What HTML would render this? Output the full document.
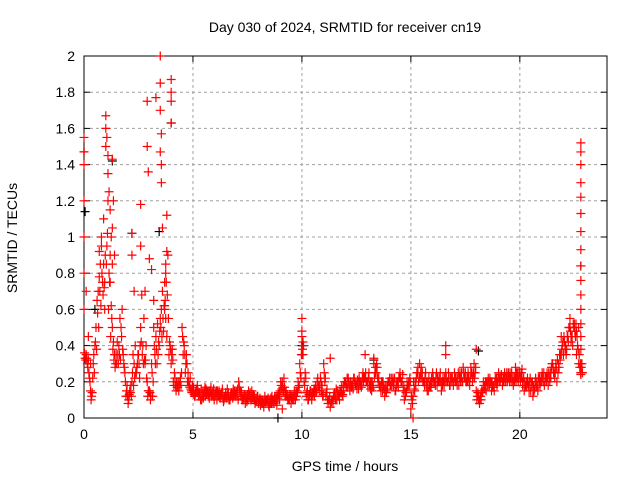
<!DOCTYPE html>
<html><head><meta charset="utf-8"><style>
html,body{margin:0;padding:0;background:#fff;}
svg{display:block;font-family:"Liberation Sans",sans-serif;}
</style></head><body>
<svg id="chart" width="640" height="480" viewBox="0 0 640 480">
<text x="345" y="32" text-anchor="middle" font-size="14">Day 030 of 2024, SRMTID for receiver cn19</text>
<text x="345" y="471" text-anchor="middle" font-size="14">GPS time / hours</text>
<text transform="translate(17,238) rotate(-90)" text-anchor="middle" font-size="14">SRMTID / TECUs</text>
<g id="grid"></g><g id="axes"></g><g id="marks"></g>
</svg>
<script>
const xTicks=[0,5,10,15,20];
const yTicks=[0,0.2,0.4,0.6,0.8,1,1.2,1.4,1.6,1.8,2];
const yTickLabels=["0","0.2","0.4","0.6","0.8","1","1.2","1.4","1.6","1.8","2"];
const mainStep=0.1;
const mainValues=[1.47,0.35,0.32,0.15,0.22,0.4,0.65,0.78,0.95,1.1,
1.5,1.2,0.9,0.5,0.35,0.3,0.4,0.5,0.35,0.2,
0.12,0.15,0.2,0.3,0.25,0.35,0.5,0.4,0.3,0.2,
0.15,0.3,0.5,0.45,0.35,0.55,0.7,0.6,0.45,0.35,
0.3,0.2,0.18,0.17,0.2,0.5,0.4,0.35,0.2,0.16,
0.15,0.12,0.18,0.14,0.1,0.13,0.16,0.12,0.15,0.14,
0.12,0.1,0.15,0.13,0.09,0.14,0.12,0.1,0.13,0.15,
0.14,0.2,0.12,0.1,0.08,0.13,0.12,0.15,0.1,0.09,
0.08,0.07,0.1,0.12,0.09,0.06,0.08,0.1,0.09,0.11,
0.15,0.2,0.17,0.12,0.1,0.08,0.12,0.1,0.14,0.3,
0.45,0.2,0.12,0.1,0.15,0.13,0.16,0.2,0.18,0.15,
0.3,0.12,0.08,0.06,0.1,0.14,0.1,0.12,0.15,0.18,
0.2,0.17,0.15,0.2,0.22,0.18,0.16,0.2,0.25,0.22,
0.2,0.18,0.15,0.3,0.25,0.2,0.17,0.15,0.12,0.18,
0.2,0.22,0.18,0.15,0.2,0.25,0.2,0.1,0.15,0.2,
0.05,0.12,0.2,0.25,0.3,0.22,0.2,0.18,0.15,0.2,
0.25,0.2,0.18,0.22,0.15,0.2,0.25,0.2,0.18,0.22,
0.25,0.2,0.18,0.22,0.28,0.25,0.2,0.18,0.25,0.3,
0.15,0.1,0.12,0.15,0.18,0.2,0.18,0.15,0.17,0.2,
0.22,0.2,0.18,0.25,0.25,0.22,0.2,0.18,0.22,0.25,
0.25,0.22,0.15,0.2,0.18,0.15,0.12,0.2,0.18,0.22,
0.2,0.25,0.22,0.18,0.25,0.3,0.22,0.2,0.28,0.35,
0.35,0.4,0.45,0.5,0.45,0.5,0.35,0.3,0.25];
const secondValues=[0.33,0.3,0.22,0.12,0.35,0.5,0.7,0.85,0.75,0.6,
0.95,0.8,0.62,0.42,0.3,0.35,0.55,0.6,0.28,0.15,
0.1,0.18,0.35,0.4,0.3,0.22,0.68,0.55,0.4,0.15,
0.1,0.12,0.35,0.3,0.4,0.6,0.48,0.8,0.9,0.4,
0.38,0.25,0.2,0.15,0.18,0.35,0.25,0.2,0.17,0.14,
0.13,0.16,0.12,0.1,0.14,0.17,0.15,0.11,0.12,0.16,
0.14,0.13,0.11,0.16,0.12,0.11,0.1,0.13,0.16,0.12,
0.16,0.15,0.1,0.12,0.1,0.15,0.1,0.12,0.08,0.12,
0.1,0.09,0.06,0.1,0.11,0.08,0.1,0.12,0.07,0.14,
0.18,0.15,0.12,0.1,0.13,0.11,0.15,0.12,0.17,0.22,
0.35,0.25,0.15,0.12,0.1,0.16,0.14,0.17,0.22,0.12,
0.2,0.16,0.1,0.09,0.12,0.1,0.13,0.15,0.12,0.2,
0.17,0.2,0.18,0.16,0.19,0.21,0.2,0.18,0.22,0.2,
0.22,0.16,0.18,0.25,0.28,0.18,0.2,0.17,0.15,0.2,
0.18,0.2,0.22,0.18,0.22,0.2,0.15,0.12,0.18,0.22,
0.1,0.16,0.22,0.2,0.25,0.2,0.22,0.15,0.18,0.22,
0.2,0.22,0.2,0.25,0.18,0.22,0.2,0.22,0.2,0.18,
0.2,0.22,0.25,0.2,0.22,0.2,0.22,0.28,0.22,0.25,
0.12,0.08,0.15,0.18,0.15,0.22,0.2,0.17,0.2,0.18,
0.2,0.24,0.22,0.2,0.22,0.25,0.22,0.2,0.25,0.22,
0.22,0.2,0.18,0.22,0.2,0.18,0.15,0.17,0.22,0.2,
0.22,0.2,0.25,0.22,0.28,0.25,0.3,0.25,0.32,0.4,
0.42,0.38,0.5,0.42,0.52,0.45,0.4,0.28,0.3];
const thirdValues=[0.36,0.33,0.25,0.1,0.3,0.42,0.58,0.7,0.8,0.72,
0.85,0.6,0.45,0.38,0.28,0.42,0.35,0.45,0.3,0.12,
0.08,0.14,0.25,0.22,0.28,0.3,0.42,0.3,0.32,0.12,
0.14,0.25,0.4,0.38,0.42,0.5,0.55,0.65,0.68,0.42,
0.35,0.18,0.15,0.2,0.22,0.45,0.35,0.3,0.18,0.15,
0.17,0.14,0.15,0.12,0.12,0.15,0.13,0.14,0.17,0.12,
0.13,0.15,0.12,0.14,0.1,0.12,0.14,0.12,0.11,0.13,
0.12,0.17,0.14,0.11,0.12,0.1,0.14,0.11,0.12,0.1,
0.09,0.1,0.08,0.09,0.1,0.1,0.12,0.08,0.11,0.13,
0.2,0.17,0.14,0.13,0.1,0.12,0.1,0.14,0.2,0.25,
0.38,0.18,0.14,0.13,0.12,0.14,0.18,0.22,0.15,0.18,
0.25,0.14,0.1,0.08,0.08,0.12,0.15,0.1,0.17,0.15,
0.18,0.22,0.2,0.18,0.2,0.16,0.22,0.17,0.2,0.25,
0.18,0.2,0.2,0.22,0.3,0.22,0.15,0.2,0.18,0.16,
0.22,0.18,0.2,0.2,0.17,0.22,0.24,0.15,0.2,0.18,
0.12,0.2,0.18,0.28,0.22,0.25,0.18,0.2,0.22,0.17,
0.22,0.18,0.22,0.2,0.2,0.18,0.22,0.25,0.22,0.2,
0.22,0.18,0.22,0.25,0.25,0.2,0.25,0.22,0.2,0.22,
0.1,0.12,0.1,0.2,0.2,0.18,0.22,0.2,0.15,0.22,
0.25,0.22,0.2,0.22,0.2,0.2,0.25,0.22,0.2,0.2,
0.2,0.18,0.2,0.18,0.15,0.2,0.18,0.22,0.15,0.18,
0.25,0.18,0.2,0.25,0.22,0.28,0.25,0.32,0.35,0.38,
0.45,0.35,0.42,0.48,0.4,0.48,0.45,0.35,0.28];
const fourthValues=[0.32,0.28,0.2,0.14,0.25,0.38,0.5,0.62,0.68,0.9,
1.02,0.75,0.55,0.32,0.35,0.3,0.32,0.38,0.25,0.18,
0.13,0.12,0.18,0.25,0.35,0.4,0.35,0.32,0.22,0.15,
0.12,0.2,0.3,0.52,0.48,0.45,0.62,0.75,0.55,0.38,
0.32,0.22,0.17,0.18,0.25,0.42,0.3,0.25,0.22,0.18,
0.12,0.15,0.14,0.16,0.11,0.12,0.14,0.15,0.13,0.1,
0.15,0.12,0.13,0.11,0.12,0.16,0.1,0.14,0.12,0.14,
0.1,0.15,0.11,0.13,0.09,0.12,0.11,0.13,0.1,0.12,
0.11,0.08,0.09,0.1,0.07,0.11,0.09,0.11,0.12,0.1,
0.16,0.22,0.15,0.11,0.12,0.1,0.12,0.15,0.18,0.35,
0.4,0.22,0.1,0.15,0.14,0.12,0.15,0.18,0.2,0.13,
0.22,0.1,0.12,0.1,0.12,0.16,0.12,0.14,0.13,0.2,
0.22,0.18,0.17,0.22,0.18,0.2,0.18,0.22,0.22,0.2,
0.25,0.2,0.17,0.28,0.22,0.18,0.2,0.16,0.14,0.2,
0.18,0.22,0.15,0.2,0.22,0.2,0.18,0.14,0.18,0.2,
0.08,0.15,0.25,0.22,0.28,0.2,0.25,0.2,0.17,0.2,
0.2,0.25,0.2,0.2,0.22,0.2,0.2,0.18,0.22,0.2,
0.22,0.25,0.2,0.2,0.22,0.22,0.2,0.25,0.25,0.28,
0.14,0.1,0.14,0.16,0.2,0.2,0.2,0.18,0.22,0.2,
0.22,0.22,0.2,0.22,0.25,0.22,0.2,0.22,0.22,0.25,
0.25,0.22,0.17,0.2,0.22,0.2,0.16,0.2,0.2,0.22,
0.2,0.22,0.22,0.2,0.3,0.25,0.28,0.3,0.35,0.42,
0.38,0.45,0.5,0.45,0.5,0.52,0.38,0.3,0.25];
const extraTimes=[0,0,0,0,0,0,0,0.1,0.2,0.3,1.0,1.0,1.05,1.1,1.1,1.15,1.2,1.3,1.3,1.35,1.4,1.25,1.2,1.3,0.7,0.8,0.9,0.95,
2.2,2.2,2.3,2.6,2.6,2.9,2.9,2.95,3.3,3.5,3.5,3.5,3.55,3.5,3.55,3.55,3.6,3.8,3.8,3.75,3.7,4.0,4.0,4.0,4.0,3.0,3.1,2.8,3.2,3.7,3.75,
10.0,10.0,10.05,10.0,
22.8,22.8,22.8,22.8,22.8,22.8,22.8,22.8,22.8,22.8,22.8,22.8,22.8,22.8,22.8,22.8,22.8,22.8,
13.3,16.6,16.6,18.0,15.1,12.9,11.3,9.1,20.1,19.8,21.9,22.3,22.5,22.6,22.7];
const extraValues=[1.55,1.47,1.4,1.2,1.0,0.8,0.6,0.7,0.45,0.3,1.67,1.6,1.55,1.45,1.35,1.25,1.15,1.43,1.05,1.2,0.9,1.0,0.75,0.85,0.92,1.0,0.85,0.75,
1.02,0.9,0.7,1.18,0.95,1.75,1.5,1.36,1.77,2.0,1.85,1.7,1.57,1.47,1.4,1.3,1.05,1.12,0.92,0.85,0.75,1.87,1.8,1.75,1.63,0.88,0.82,0.7,0.65,0.62,0.55,
0.55,0.48,0.42,0.35,
1.52,1.47,1.4,1.3,1.22,1.13,1.03,0.93,0.84,0.76,0.68,0.6,0.52,0.45,0.38,0.3,0.25,0.24,
0.33,0.4,0.35,0.38,0.0,0.35,0.33,0.05,0.27,0.28,0.45,0.55,0.52,0.48,0.5];
const blackTimes=[0,1.3,4.0,22.8,0.5,8.9,10.0,2.2,13.3,18.1,0.05,3.45];
const blackValues=[1.47,1.42,1.63,0.84,0.6,0.0,0.4,1.02,0.32,0.37,1.14,1.03];

const X0=84,X1=607,Y0=418,Y1=56,XMAX=24,YMAX=2;
function xs(t){return X0+(t/XMAX)*(X1-X0);}
function ys(v){return Y0-(v/YMAX)*(Y0-Y1);}
const NS="http://www.w3.org/2000/svg";
const grid=document.getElementById('grid'),axes=document.getElementById('axes'),marks=document.getElementById('marks');
function mk(tag,attrs,parent){const e=document.createElementNS(NS,tag);for(const k in attrs)e.setAttribute(k,attrs[k]);parent.appendChild(e);return e;}

yTicks.forEach((v,i)=>{
  const y=ys(v);
  if(i>0&&i<yTicks.length-1){const g=mk('line',{x1:X0,x2:X1,y1:y,y2:y,stroke:'#a0a0a0','stroke-dasharray':'3,3','stroke-width':1},grid);
  
  }
  const tk=mk('line',{x1:X0,x2:X0+6,y1:y,y2:y,stroke:'#000'},axes);
  
  
  const tr=mk('line',{x1:X1-6,x2:X1,y1:y,y2:y,stroke:'#000'},axes);
  
  
  const t=mk('text',{x:X0-9,y:y+5,'text-anchor':'end','font-size':14},axes);
  t.textContent=yTickLabels[i];
  
  
});
xTicks.forEach(v=>{
  const x=xs(v);
  if(v>0){const g=mk('line',{x1:x,x2:x,y1:Y0,y2:Y1,stroke:'#a0a0a0','stroke-dasharray':'3,3','stroke-width':1},grid);
  
  }
  const tk=mk('line',{x1:x,x2:x,y1:Y0,y2:Y0-6,stroke:'#000'},axes);
  
  
  const tt=mk('line',{x1:x,x2:x,y1:Y1,y2:Y1+6,stroke:'#000'},axes);
  
  
  const t=mk('text',{x:x,y:Y0+21,'text-anchor':'middle','font-size':14},axes);
  t.textContent=String(v);
  
  
});
const frame=mk('rect',{x:X0,y:Y1,width:X1-X0,height:Y0-Y1,fill:'none',stroke:'#000','stroke-width':1},axes);



function plus(t,v,color,name){
  const x=xs(t),y=ys(v);
  const p=mk('path',{d:`M${x-4.5},${y}H${x+4.5}M${x},${y-4.5}V${y+4.5}`,stroke:color,'stroke-width':1.2,fill:'none'},marks);
  
  
}
blackValues.forEach((v,i)=>plus(blackTimes[i],v,'#000','black-point'));
mainValues.forEach((v,i)=>plus(i*mainStep,v,'#ff0000','main-point'));
secondValues.forEach((v,i)=>plus(i*mainStep+0.05,v,'#ff0000','second-point'));
thirdValues.forEach((v,i)=>plus(i*mainStep+0.025,v,'#ff0000','third-point'));
fourthValues.forEach((v,i)=>plus(i*mainStep+0.075,v,'#ff0000','fourth-point'));
extraValues.forEach((v,i)=>plus(extraTimes[i],v,'#ff0000','outlier-point'));
</script>
</body></html>
